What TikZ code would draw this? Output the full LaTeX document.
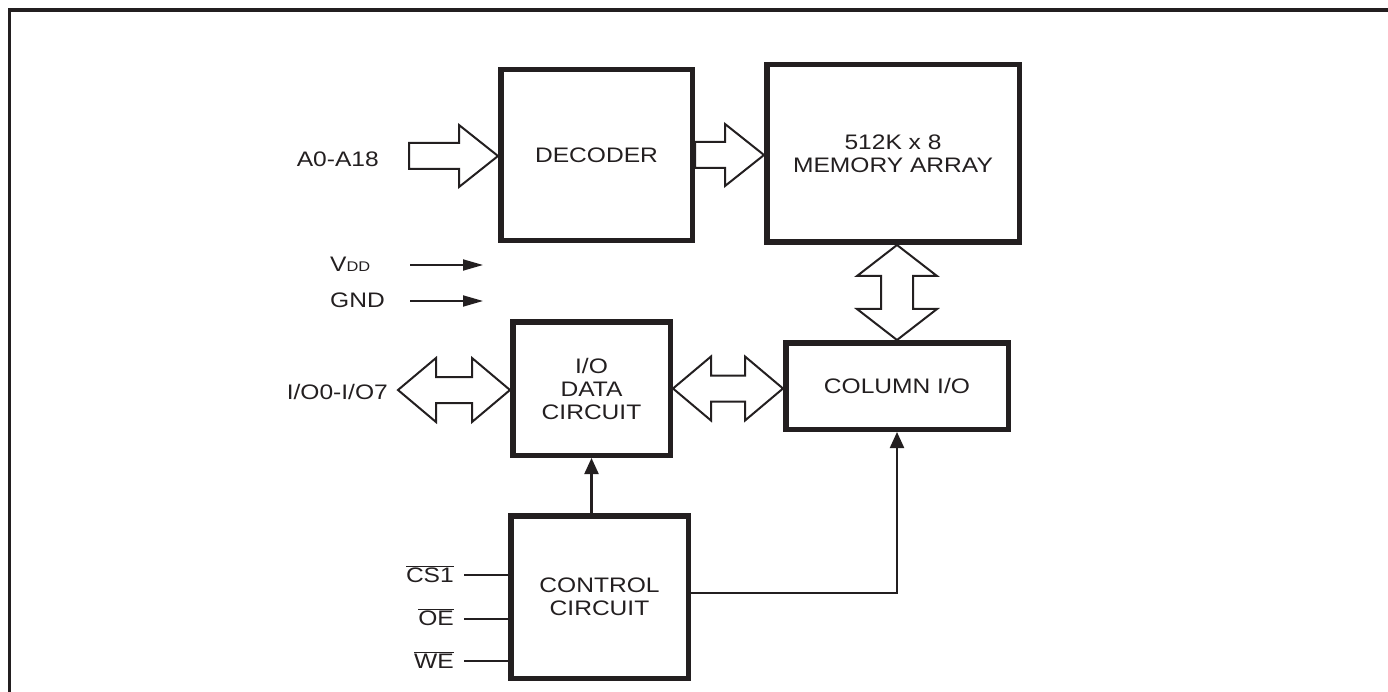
\documentclass[tikz,border=0pt]{standalone}
\usepackage{fontspec}
\setmainfont{Liberation Sans}[FakeStretch=1.17]
\usepackage{tikz}
\usepackage{xcolor}
\usetikzlibrary{arrows.meta, positioning, calc}
\definecolor{ink}{RGB}{35,31,32}
\tikzset{
  block/.style={draw=ink, line width=5.5pt, fill=white, align=center, text=ink, inner sep=0pt},
  bus/.style={draw=ink, line width=2pt, fill=white, line join=miter},
  wire/.style={draw=ink, line width=2.2pt},
  lbl/.style={text=ink, inner sep=0pt},
}
% breiter Pfeil: Ende, Spitze
\newcommand{\hbus}[2]{%
  \draw[bus] let \p1=(#1), \p2=(#2) in
    (\x1,\y1+13pt) -- (\x2-39pt,\y1+13pt) -- (\x2-39pt,\y1+31pt) -- (\x2,\y1)
    -- (\x2-39pt,\y1-31pt) -- (\x2-39pt,\y1-13pt) -- (\x1,\y1-13pt) -- cycle;}
% breiter Doppelpfeil, waagrecht
\newcommand{\hdbus}[2]{%
  \draw[bus] let \p1=(#1), \p2=(#2) in
    (\x1,\y1) -- (\x1+38pt,\y1+32pt) -- (\x1+38pt,\y1+13pt) -- (\x2-38pt,\y1+13pt)
    -- (\x2-38pt,\y1+32pt) -- (\x2,\y1) -- (\x2-38pt,\y1-32pt) -- (\x2-38pt,\y1-13pt)
    -- (\x1+38pt,\y1-13pt) -- (\x1+38pt,\y1-32pt) -- cycle;}
% breiter Doppelpfeil, senkrecht
\newcommand{\vdbus}[2]{%
  \draw[bus] let \p1=(#1), \p2=(#2) in
    (\x2,\y1) -- (\x2+40pt,\y1-31pt) -- (\x2+16pt,\y1-31pt) -- (\x2+16pt,\y2+31pt)
    -- (\x2+40pt,\y2+31pt) -- (\x2,\y2) -- (\x2-40pt,\y2+31pt) -- (\x2-16pt,\y2+31pt)
    -- (\x2-16pt,\y1-31pt) -- (\x2-40pt,\y1-31pt) -- cycle;}
\newcommand{\ovl}[1]{$\overline{\mbox{#1}}$}

\begin{document}
\begin{tikzpicture}[x=1pt, y=-1pt, font=\fontsize{21}{23}\selectfont]
    \useasboundingbox (0,0) rectangle (1388,692);
    % Rahmen
    \draw[ink, line width=3.5pt] (9.5,692) -- (9.5,10) -- (1388,10);
    % Bloecke
    \node[block, minimum width=191.5, minimum height=171] (dec) at (596.5,155) {DECODER};
    \node[block, minimum width=252.5, minimum height=177.5] (mem) at (893,153.5) {512K x 8\\MEMORY ARRAY};
    \node[block, minimum width=157.5, minimum height=133.5] (iod) at (591.5,388.5) {I/O\\DATA\\CIRCUIT};
    \node[block, minimum width=222.5, minimum height=86.5] (col) at (897,386) {COLUMN I/O};
    \node[block, minimum width=177.5, minimum height=162.5] (ctl) at (599.5,597) {CONTROL\\CIRCUIT};
    % Busse
    \coordinate (atail) at (409,156);
    \coordinate (iotip) at (398,390);
    \hbus{atail}{dec.west}
    \hbus{dec.east}{mem.west}
    \hdbus{iotip}{iod.west}
    \hdbus{iod.east}{col.west}
    \vdbus{mem.south}{col.north}
    % Eingaenge links
    \node[lbl, anchor=east] (addr) at (379,159) {A0-A18};
    \node[lbl, anchor=east] (dq) at (388,392) {I/O0-I/O7};
    \node[lbl, anchor=base west] (vdd) at (330,272) {V{\fontsize{14}{15}\selectfont DD}};
    \node[lbl, anchor=base west] (gnd) at (330,308) {GND};
    \coordinate (vddA) at (410,265);
    \coordinate (vddB) at (483,265);
    \coordinate (gndA) at (410,301);
    \coordinate (gndB) at (483,301);
    \draw[wire, line width=1.8pt, -{Triangle[length=20pt, width=11pt]}] (vddA) -- (vddB);
    \draw[wire, line width=1.8pt, -{Triangle[length=20pt, width=11pt]}] (gndA) -- (gndB);
    % Steuersignale
    \node[lbl, anchor=base east] (cs) at (454,582) {\ovl{CS1}};
    \node[lbl, anchor=base east] (oe) at (454,625) {\ovl{OE}};
    \node[lbl, anchor=base east] (we) at (454,668) {\ovl{WE}};
    \coordinate (csA) at (464,575);
    \coordinate (oeA) at (464,619);
    \coordinate (weA) at (464,661);
    \draw[wire] (csA) -- (csA -| ctl.west);
    \draw[wire] (oeA) -- (oeA -| ctl.west);
    \draw[wire] (weA) -- (weA -| ctl.west);
    % Steuerleitungen
    \draw[wire, -{Triangle[length=16pt, width=14pt]}] (iod.south |- ctl.north) -- (iod.south);
    \coordinate (ctlR) at (ctl.east |- 0,593);
    \draw[wire, -{Triangle[length=16pt, width=14pt]}] (ctlR) -| (col.south);
\end{tikzpicture}
\end{document}
